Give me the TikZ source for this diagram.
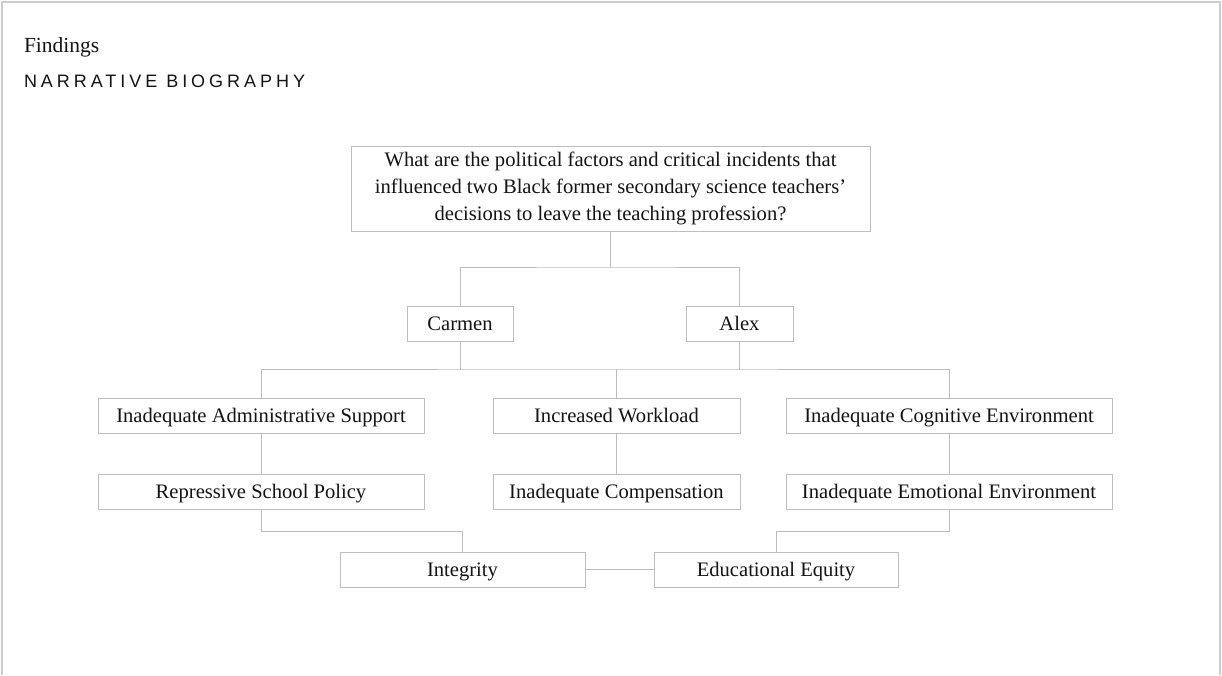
\documentclass[tikz,border=0pt]{standalone}
\usepackage{fontspec}
\setmainfont{Liberation Serif}
\newfontfamily\headsans[LetterSpace=22.0]{Liberation Sans}
\usetikzlibrary{calc}
\definecolor{boxgray}{RGB}{190,190,190}
\definecolor{framegray}{RGB}{205,205,205}
\definecolor{txt}{RGB}{20,20,20}
\tikzset{
  every node/.style={inner sep=0pt, outer sep=0pt},
  bx/.style={draw=boxgray, line width=1pt, fill=white, text=txt, minimum height=35pt,
    font=\fontsize{20.6}{27}\selectfont, align=center},
  one/.style={text height=16pt, text depth=3pt},
  cn/.style={draw=boxgray, line width=1pt},
}
\begin{document}
\begin{tikzpicture}[x=1pt,y=-1pt]
\useasboundingbox (0,0) rectangle (1222,675);
\fill[white] (0,0) rectangle (1222,675);
\draw[framegray, line width=2pt] (1.5,675) -- (1.5,1.5) -- (1220,1.5) -- (1220,675);

\node[anchor=base west, text=txt, font=\fontsize{21.5}{25}\selectfont] (title) at (24,52) {Findings};
\node[anchor=base west, text=txt, font=\headsans\fontsize{18}{22}\selectfont] (sub) at (24,87) {NARRATIVE BIOGRAPHY};

\node[bx, minimum width=519pt, minimum height=85pt] (q) at (610.5,188.5)
  {What are the political factors and critical incidents that\\influenced two Black former secondary science teachers'\\decisions to leave the teaching profession?};

\node[bx, one, minimum width=106pt] (carmen) at (460,323.5) {Carmen};
\node[bx, one, minimum width=107pt] (alex) at (739.5,323.5) {Alex};

\node[bx, one, minimum width=326pt] (admin) at (261,415.5) {Inadequate Administrative Support};
\node[bx, one, minimum width=247pt] (incr) at (616.5,415.5) {Increased Workload};
\node[bx, one, minimum width=326pt] (cog) at (949,415.5) {Inadequate Cognitive Environment};

\node[bx, one, minimum width=326pt] (rep) at (261,491.5) {Repressive School Policy};
\node[bx, one, minimum width=247pt] (comp) at (616.5,491.5) {Inadequate Compensation};
\node[bx, one, minimum width=326pt] (emo) at (949,491.5) {Inadequate Emotional Environment};

\node[bx, one, minimum width=245pt] (integ) at (462.5,569.5) {Integrity};
\node[bx, one, minimum width=244pt] (equity) at (776,569.5) {Educational Equity};

\coordinate (j1) at (610.5,267);
\coordinate (j2) at (610.5,369);
\coordinate (j3) at (610.5,531);

\draw[cn] (q.south) -- (j1);
\draw[cn] (carmen.north) |- (j1) -| (alex.north);
\draw[cn] (carmen.south) -- (carmen.south |- j2);
\draw[cn] (alex.south) -- (alex.south |- j2);
\draw[cn] (admin.north) |- (j2) -| (cog.north);
\draw[cn] (incr.north) -- (incr.north |- j2);

\draw[cn] (admin.south) -- (rep.north);
\draw[cn] (incr.south) -- (comp.north);
\draw[cn] (cog.south) -- (emo.north);

\draw[cn] (rep.south) -- (rep.south |- j3) -| (integ.north);
\draw[cn] (emo.south) -- (emo.south |- j3) -| (equity.north);
\draw[cn] (integ.east) -- (equity.west);
\end{tikzpicture}
\end{document}
